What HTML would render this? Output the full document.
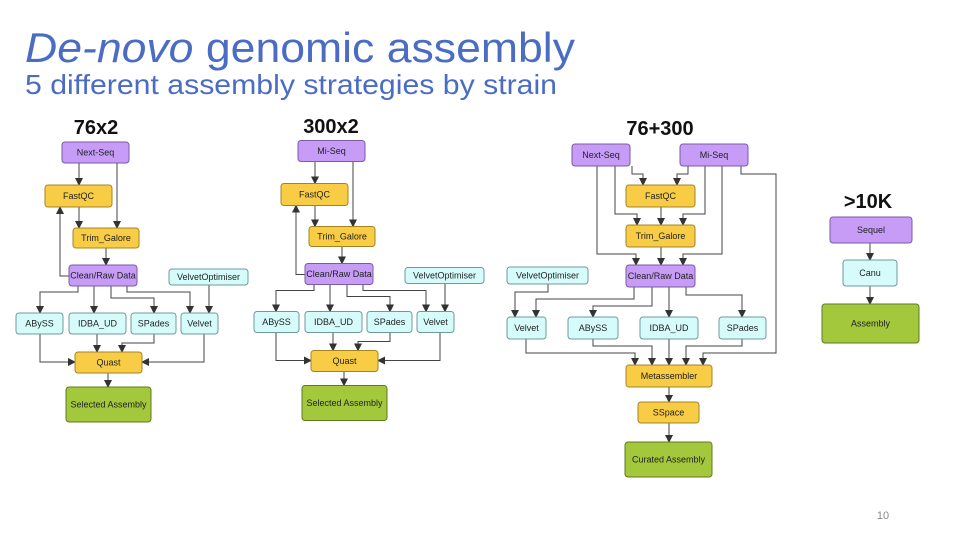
<!DOCTYPE html>
<html><head><meta charset="utf-8"><style>
html,body{margin:0;padding:0;background:#fff;}
svg{display:block;}
.t{font-family:"Liberation Sans",sans-serif;}
.b text{font-family:"Liberation Sans",sans-serif;font-size:9px;text-anchor:middle;dominant-baseline:central;fill:#222;}
.p{fill:#c69cf7;stroke:#7b5aa6;stroke-width:1;}
.y{fill:#f8cc45;stroke:#a58325;stroke-width:1;}
.c{fill:#d6fbfb;stroke:#6f9a9a;stroke-width:1;}
.g{fill:#a3c83b;stroke:#5d7a22;stroke-width:1;}
.e{fill:none;stroke:#444;stroke-width:1;marker-end:url(#a);}
.h{font-family:"Liberation Sans",sans-serif;font-weight:bold;font-size:20px;text-anchor:middle;fill:#111;}
</style></head><body>
<svg width="960" height="540" viewBox="0 0 960 540" xmlns="http://www.w3.org/2000/svg">
<defs><marker id="a" markerWidth="8" markerHeight="8" refX="7" refY="4" orient="auto" markerUnits="userSpaceOnUse"><path d="M0,0 L8,4 L0,8 z" fill="#333"/></marker></defs>
<text class="t" x="25" y="62" font-size="42" fill="#4a6cc3" textLength="550" lengthAdjust="spacingAndGlyphs"><tspan font-style="italic">De-novo</tspan> genomic assembly</text>
<text class="t" x="25" y="94" font-size="28" fill="#4a6cc3" textLength="532" lengthAdjust="spacingAndGlyphs">5 different assembly strategies by strain</text>
<text class="t" x="883" y="519" font-size="11" fill="#888" text-anchor="middle">10</text>

<text class="h" x="96" y="134">76x2</text>
<text class="h" x="331" y="133">300x2</text>
<text class="h" x="660" y="135">76+300</text>
<text class="h" x="868" y="208">&gt;10K</text>

<!-- Diagram 1 -->
<g id="d1">
<path class="e" d="M79,163 V185"/>
<path class="e" d="M117,163 V228"/>
<path class="e" d="M79,207 V228"/>
<path class="e" d="M69,276 H60 V207"/>
<path class="e" d="M106,248 V265"/>
<path class="e" d="M78,286 V292 H40 V313"/>
<path class="e" d="M94,286 V313"/>
<path class="e" d="M111,286 V298 H154 V313"/>
<path class="e" d="M127,286 V292 H190 V313"/>
<path class="e" d="M209,285 V313"/>
<path class="e" d="M40,334 V362 H75"/>
<path class="e" d="M97,334 V352"/>
<path class="e" d="M154,334 V343 H122 V352"/>
<path class="e" d="M204,334 V362 H142"/>
<path class="e" d="M108,373 V387"/>
<g class="b">
<rect class="p" x="62" y="142" width="67" height="21" rx="3"/><text x="95.5" y="152.5">Next-Seq</text>
<rect class="y" x="45" y="185" width="67" height="22" rx="3"/><text x="78.5" y="196">FastQC</text>
<rect class="y" x="73" y="228" width="66" height="20" rx="3"/><text x="106" y="238">Trim_Galore</text>
<rect class="p" x="69" y="265" width="68" height="21" rx="3"/><text x="103" y="275.5">Clean/Raw Data</text>
<rect class="c" x="169" y="269" width="79" height="16" rx="3"/><text x="208.5" y="277">VelvetOptimiser</text>
<rect class="c" x="16" y="313" width="47" height="21" rx="3"/><text x="39.5" y="323.5">ABySS</text>
<rect class="c" x="69" y="313" width="57" height="21" rx="3"/><text x="97.5" y="323.5">IDBA_UD</text>
<rect class="c" x="131" y="313" width="45" height="21" rx="3"/><text x="153.5" y="323.5">SPades</text>
<rect class="c" x="181" y="313" width="37" height="21" rx="3"/><text x="199.5" y="323.5">Velvet</text>
<rect class="y" x="75" y="352" width="67" height="21" rx="3"/><text x="108.5" y="362.5">Quast</text>
<rect class="g" x="66" y="387" width="85" height="35" rx="3"/><text x="108.5" y="404.5">Selected Assembly</text>
</g></g>

<!-- Diagram 2 -->
<g transform="translate(236,-1.5)">
<path class="e" d="M79,163 V185"/>
<path class="e" d="M117,163 V228"/>
<path class="e" d="M79,207 V228"/>
<path class="e" d="M69,276 H60 V207"/>
<path class="e" d="M106,248 V265"/>
<path class="e" d="M78,286 V292 H40 V313"/>
<path class="e" d="M94,286 V313"/>
<path class="e" d="M111,286 V298 H154 V313"/>
<path class="e" d="M127,286 V292 H190 V313"/>
<path class="e" d="M209,285 V313"/>
<path class="e" d="M40,334 V362 H75"/>
<path class="e" d="M97,334 V352"/>
<path class="e" d="M154,334 V343 H122 V352"/>
<path class="e" d="M204,334 V362 H142"/>
<path class="e" d="M108,373 V387"/>
<g class="b">
<rect class="p" x="62" y="142" width="67" height="21" rx="3"/><text x="95.5" y="152.5">Mi-Seq</text>
<rect class="y" x="45" y="185" width="67" height="22" rx="3"/><text x="78.5" y="196">FastQC</text>
<rect class="y" x="73" y="228" width="66" height="20" rx="3"/><text x="106" y="238">Trim_Galore</text>
<rect class="p" x="69" y="265" width="68" height="21" rx="3"/><text x="103" y="275.5">Clean/Raw Data</text>
<rect class="c" x="169" y="269" width="79" height="16" rx="3"/><text x="208.5" y="277">VelvetOptimiser</text>
<rect class="c" x="18" y="313" width="45" height="21" rx="3"/><text x="40.5" y="323.5">ABySS</text>
<rect class="c" x="69" y="313" width="57" height="21" rx="3"/><text x="97.5" y="323.5">IDBA_UD</text>
<rect class="c" x="131" y="313" width="45" height="21" rx="3"/><text x="153.5" y="323.5">SPades</text>
<rect class="c" x="181" y="313" width="37" height="21" rx="3"/><text x="199.5" y="323.5">Velvet</text>
<rect class="y" x="75" y="352" width="67" height="21" rx="3"/><text x="108.5" y="362.5">Quast</text>
<rect class="g" x="66" y="387" width="85" height="35" rx="3"/><text x="108.5" y="404.5">Selected Assembly</text>
</g></g>

<!-- Diagram 3 -->
<g>
<path class="e" d="M597,166 V254 H636 V265"/>
<path class="e" d="M615,166 V214 H637 V225"/>
<path class="e" d="M632,166 V174 H643 V185"/>
<path class="e" d="M688,166 V174 H677 V185"/>
<path class="e" d="M705,166 V214 H683 V225"/>
<path class="e" d="M722,166 V254 H683 V265"/>
<path class="e" d="M741,166 V174 H776 V353 H703 V365"/>
<path class="e" d="M661,207 V225"/>
<path class="e" d="M661,247 V265"/>
<path class="e" d="M634,287 V299 H536 V317"/>
<path class="e" d="M652,287 V306 H593 V317"/>
<path class="e" d="M669,287 V317"/>
<path class="e" d="M686,287 V295 H742 V317"/>
<path class="e" d="M548,284 V292 H515 V317"/>
<path class="e" d="M526,339 V353 H635 V365"/>
<path class="e" d="M593,339 V346 H652 V365"/>
<path class="e" d="M669,339 V365"/>
<path class="e" d="M742,339 V346 H686 V365"/>
<path class="e" d="M669,387 V402"/>
<path class="e" d="M669,423 V442"/>
<g class="b">
<rect class="p" x="572" y="144" width="58" height="22" rx="3"/><text x="601" y="155">Next-Seq</text>
<rect class="p" x="680" y="144" width="68" height="22" rx="3"/><text x="714" y="155">Mi-Seq</text>
<rect class="y" x="626" y="185" width="69" height="22" rx="3"/><text x="660.5" y="196">FastQC</text>
<rect class="y" x="626" y="225" width="69" height="22" rx="3"/><text x="660.5" y="236">Trim_Galore</text>
<rect class="p" x="626" y="265" width="69" height="22" rx="3"/><text x="660.5" y="276">Clean/Raw Data</text>
<rect class="c" x="507" y="267" width="81" height="17" rx="3"/><text x="547.5" y="275.5">VelvetOptimiser</text>
<rect class="c" x="507" y="317" width="39" height="22" rx="3"/><text x="526.5" y="328">Velvet</text>
<rect class="c" x="568" y="317" width="50" height="22" rx="3"/><text x="593" y="328">ABySS</text>
<rect class="c" x="640" y="317" width="58" height="22" rx="3"/><text x="669" y="328">IDBA_UD</text>
<rect class="c" x="719" y="317" width="47" height="22" rx="3"/><text x="742.5" y="328">SPades</text>
<rect class="y" x="626" y="365" width="86" height="22" rx="3"/><text x="669" y="376">Metassembler</text>
<rect class="y" x="638" y="402" width="61" height="21" rx="3"/><text x="668.5" y="412.5">SSpace</text>
<rect class="g" x="625" y="442" width="87" height="35" rx="3"/><text x="668.5" y="459.5">Curated Assembly</text>
</g></g>

<!-- Diagram 4 -->
<g>
<path class="e" d="M870,243 V260"/>
<path class="e" d="M870,286 V304"/>
<g class="b">
<rect class="p" x="830" y="217" width="82" height="26" rx="3"/><text x="871" y="230">Sequel</text>
<rect class="c" x="843" y="260" width="54" height="26" rx="3"/><text x="870" y="273">Canu</text>
<rect class="g" x="822" y="304" width="97" height="39" rx="3"/><text x="870.5" y="323.5">Assembly</text>
</g></g>
</svg>
</body></html>
